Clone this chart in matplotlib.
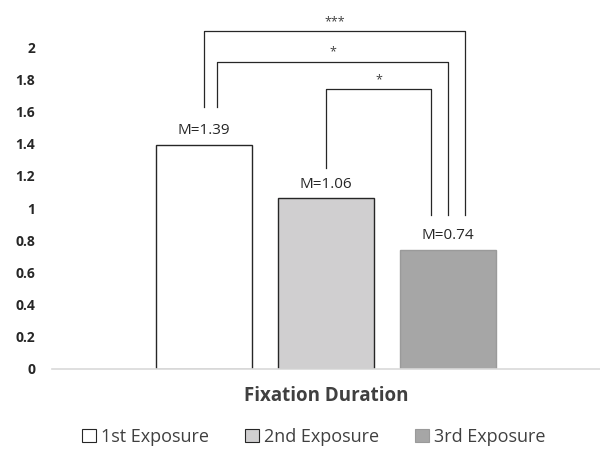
import matplotlib.pyplot as plt
from matplotlib.patches import Patch

plt.rcParams['font.family'] = ['Open Sans', 'DejaVu Sans']

# data
series = ["1st Exposure", "2nd Exposure", "3rd Exposure"]
means = [1.39, 1.06, 0.74]
category = "Fixation Duration"
fills = ["#ffffff", "#d0cfd0", "#a6a6a6"]
edges = ["#262626", "#262626", "#9a9a9a"]
yticks = [0, 0.2, 0.4, 0.6, 0.8, 1, 1.2, 1.4, 1.6, 1.8, 2]
ytick_labels = ["0", "0.2", "0.4", "0.6", "0.8", "1", "1.2", "1.4", "1.6", "1.8", "2"]

# brackets: (left x, left bottom, top, right x, right bottom, label)
brackets = [
    (-1.0, 1.63, 2.10, 1.14, 0.96, "***"),
    (-0.89, 1.63, 1.91, 1.0, 0.96, "*"),
    (0.0, 1.25, 1.74, 0.86, 0.96, "*"),
]

fig = plt.figure(figsize=(6, 4.49), dpi=100)
ax = fig.add_axes([52 / 600, 1 - 369 / 449, 548 / 600, 362 / 449])

xpos = [-1, 0, 1]
for x, m, fc, ec in zip(xpos, means, fills, edges):
    ax.bar(x, m, width=0.79, color=fc, edgecolor=ec, linewidth=1.0, zorder=2)
    ax.annotate(f"M={m:.2f}", (x, m), xytext=(0, 5), textcoords="offset points",
                ha="center", va="bottom", fontsize=11, color="#262626")

for lx, lb, top, rx, rb, lab in brackets:
    ax.plot([lx, lx, rx, rx], [lb, top, top, rb], color="#262626", lw=0.9,
            clip_on=False, zorder=3)
    ax.text((lx + rx) / 2, top + 0.02, lab, ha="center", va="bottom",
            fontsize=9, color="#404040")

ax.set_xlim(-2.245, 2.245)
ax.set_ylim(0, 2.25)
ax.set_yticks(yticks)
ax.set_yticklabels(ytick_labels, fontsize=10, fontweight="bold", color="#262626")
ax.tick_params(axis="y", length=0, pad=12)
ax.set_xticks([0])
ax.set_xticklabels([category], fontsize=13.5, fontweight="bold", color="#404040")
ax.tick_params(axis="x", length=0, pad=12)
for s in ["top", "right", "left"]:
    ax.spines[s].set_visible(False)
ax.spines["bottom"].set_color("#d9d9d9")
ax.spines["bottom"].set_linewidth(1.2)

handles = [Patch(facecolor=fc, edgecolor=ec, linewidth=0.8) for fc, ec in zip(fills, edges)]
fig.legend(handles, series, loc="center", bbox_to_anchor=(314 / 600, 1 - 437 / 449),
           ncol=3, frameon=False, fontsize=13, handlelength=0.75, handleheight=0.75,
           handletextpad=0.3, columnspacing=2.0, labelcolor="#404040")

fig.savefig("out.png", dpi=100)
